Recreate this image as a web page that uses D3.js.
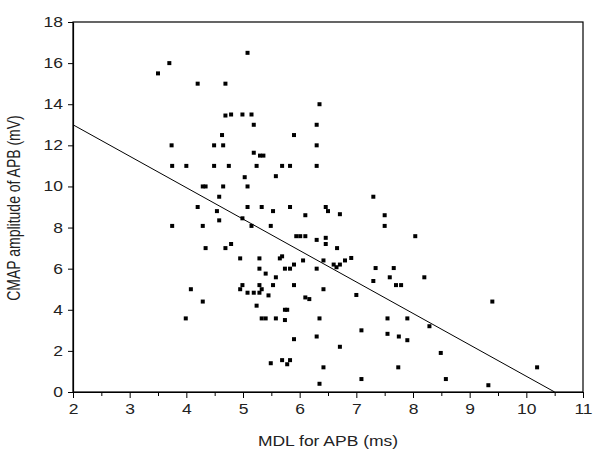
<!DOCTYPE html>
<html><head><meta charset="utf-8">
<script src="https://cdn.jsdelivr.net/npm/d3@7"></script>
<style>body{margin:0;background:#fff}svg{display:block}text{font-family:Arial,"Liberation Sans",sans-serif;fill:#222}</style>
</head><body><svg id="c" width="600" height="473"></svg>
<script>
const mdl = [3.50,3.70,4.20,3.74,4.69,4.69,4.79,4.63,4.49,4.65,5.08,6.35,4.99,5.15,5.19,6.30,5.90,6.30,5.19,5.30,5.36,3.75,4.00,4.49,4.75,4.29,4.34,4.65,4.58,4.20,4.54,4.58,3.75,4.29,4.34,4.69,4.79,4.95,4.08,4.29,3.99,5.24,5.69,5.83,6.30,5.03,5.58,5.08,5.08,5.33,5.53,5.83,6.46,6.50,6.71,6.10,4.99,5.15,5.49,5.94,6.01,6.10,6.30,6.46,6.46,6.66,5.29,5.65,5.69,6.06,6.42,6.60,6.71,6.80,5.29,5.74,5.83,6.30,6.65,5.90,5.40,5.58,4.99,4.95,5.08,5.19,5.29,5.29,5.33,5.53,5.45,5.90,6.10,6.17,6.42,5.24,5.74,5.78,5.33,5.40,5.58,5.74,6.35,5.90,6.30,6.71,5.49,5.69,5.78,5.83,6.42,6.35,7.30,7.50,7.50,8.04,6.91,7.34,7.66,7.30,7.59,7.70,7.79,8.20,7.00,7.55,7.90,8.29,7.09,7.55,7.75,7.90,8.49,7.74,7.09,8.58,9.40,10.19,9.33];
const cmap = [15.5,16.0,15.0,12.0,15.0,13.45,13.5,12.5,12.0,12.0,16.5,14.0,13.5,13.5,13.0,13.0,12.5,12.0,11.64,11.5,11.5,11.0,11.0,11.0,11.0,10.0,10.0,10.0,9.5,9.0,8.8,8.35,8.08,8.08,7.0,7.0,7.2,6.5,5.0,4.4,3.58,11.0,11.0,11.0,11.0,10.45,10.5,10.0,9.0,9.0,8.8,9.0,9.0,8.8,8.65,8.6,8.45,8.08,8.08,7.58,7.58,7.58,7.4,7.5,7.2,7.0,6.5,6.5,6.6,6.4,6.4,6.2,6.2,6.4,6.0,6.0,6.0,6.0,6.07,6.2,5.76,5.58,5.2,5.0,4.83,4.83,4.83,5.2,5.0,5.2,4.7,5.2,4.6,4.52,5.0,4.2,4.0,4.0,3.58,3.58,3.58,3.5,3.58,2.57,2.7,2.2,1.4,1.55,1.35,1.55,1.2,0.4,9.5,8.6,8.08,7.58,6.52,6.03,6.03,5.4,5.58,5.2,5.2,5.58,4.72,3.58,3.58,3.2,3.0,2.83,2.7,2.52,1.9,1.2,0.63,0.63,4.4,1.2,0.33];
const fitLine = [[2, 13.0], [10.5, 0]];
const xTicks = [2,3,4,5,6,7,8,9,10,11];
const yTicks = [0,2,4,6,8,10,12,14,16,18];
const xTitle = "MDL for APB (ms)";
const yTitle = "CMAP amplitude of APB (mV)";

const svg = d3.select("#c");
const L=73, R=583, T=22, B=392;
const SX = 1.25; // horizontal stretch of the lettering
const x = d3.scaleLinear().domain([2,11]).range([L,R]);
const y = d3.scaleLinear().domain([0,18]).range([B,T]);

svg.append("rect").attr("x",L).attr("y",T).attr("width",R-L).attr("height",B-T)
  .attr("fill","none").attr("stroke","#000").attr("stroke-width",1.2);

svg.append("g").attr("transform",`translate(0,${B})`)
  .call(d3.axisBottom(x).tickValues(xTicks).tickFormat(d3.format("d")).tickSize(6).tickSizeOuter(0).tickPadding(6))
  .call(g=>g.selectAll(".tick text").attr("transform",`scale(${SX},1)`));
svg.append("g").attr("transform",`translate(0,${B})`)
  .call(d3.axisBottom(x).tickValues(d3.range(2.5,11,1)).tickFormat("").tickSize(4).tickSizeOuter(0))
  .call(g=>g.select(".domain").remove());
svg.append("g").attr("transform",`translate(${L},0)`)
  .call(d3.axisLeft(y).tickValues(yTicks).tickFormat(d3.format("d")).tickSize(5).tickSizeOuter(0).tickPadding(4))
  .call(g=>g.selectAll(".tick text").attr("x",-10/SX).attr("transform",`scale(${SX},1)`));
svg.selectAll(".domain").attr("stroke","#000").attr("stroke-width",1.2);
svg.selectAll(".tick line").attr("stroke","#000");
svg.selectAll(".tick text").style("font-size","14px").attr("fill","#222");

svg.append("text").attr("transform",`translate(${(L+R)/2},446) scale(${SX},1)`).attr("text-anchor","middle").style("font-size","14px").text(xTitle);
svg.append("text").attr("transform",`translate(20,208) scale(${SX},1) rotate(-90)`).attr("text-anchor","middle").style("font-size","14px").text(yTitle);

svg.append("line").attr("x1",x(fitLine[0][0])).attr("y1",y(fitLine[0][1]))
  .attr("x2",x(fitLine[1][0])).attr("y2",y(fitLine[1][1])).attr("stroke","#000").attr("stroke-width",1);

svg.append("g").selectAll("rect").data(mdl.map((d,i)=>[d,cmap[i]])).join("rect")
  .attr("x",d=>x(d[0])-2).attr("y",d=>y(d[1])-2).attr("width",4).attr("height",4).attr("fill","#000");
</script></body></html>
